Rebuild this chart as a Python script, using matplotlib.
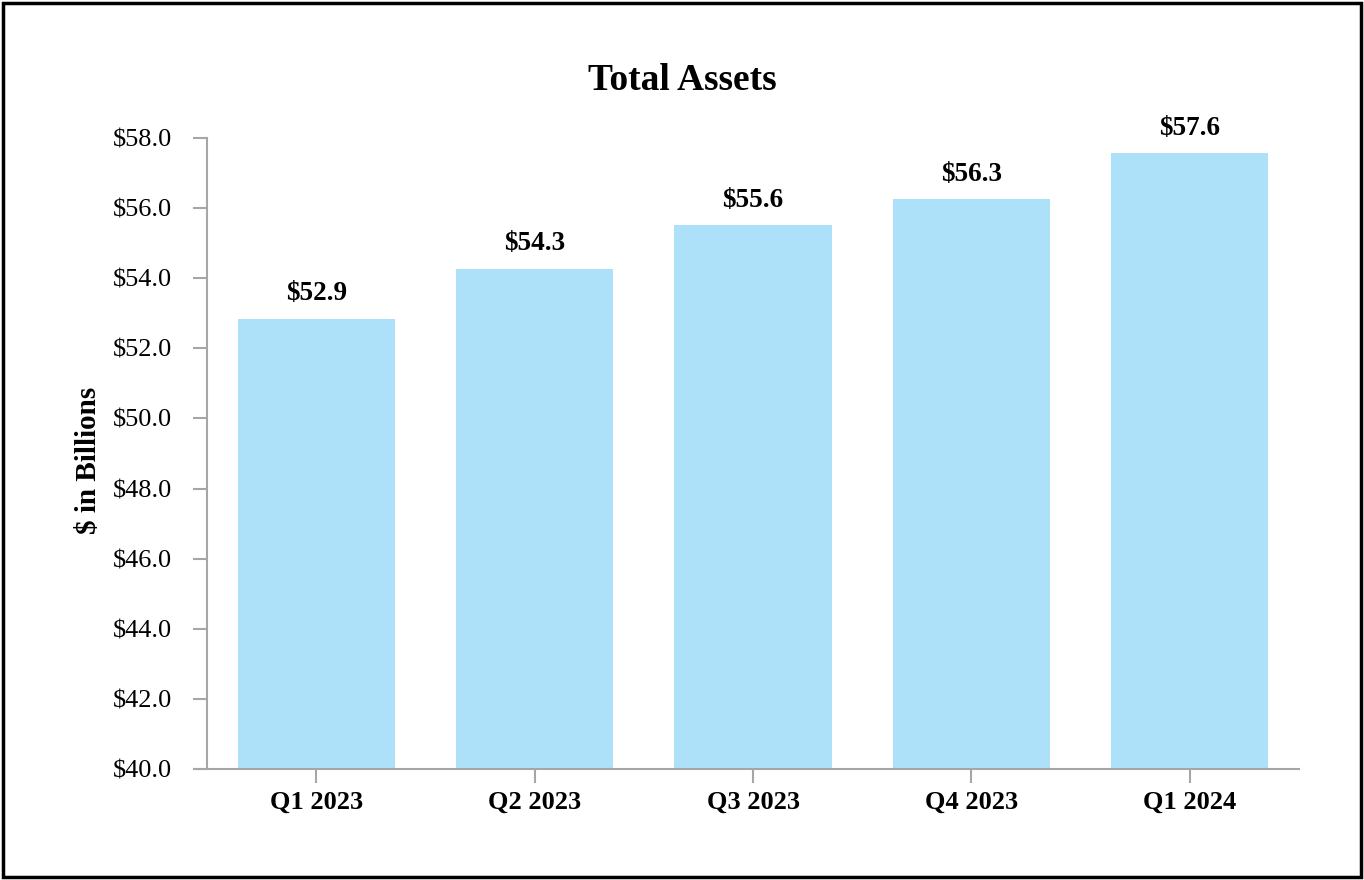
import matplotlib
matplotlib.use("Agg")
from matplotlib import pyplot as plt
from matplotlib.patches import Rectangle

quarters = ["Q1 2023", "Q2 2023", "Q3 2023", "Q4 2023", "Q1 2024"]
total_assets = [52.85, 54.27, 55.52, 56.26, 57.56]
value_labels = ["$52.9", "$54.3", "$55.6", "$56.3", "$57.6"]
y_ticks = [40, 42, 44, 46, 48, 50, 52, 54, 56, 58]

plt.rcParams["font.family"] = ["Liberation Serif", "DejaVu Serif"]

fig = plt.figure(figsize=(13.64, 8.8), dpi=100)
ax = fig.add_axes([195 / 1364, 111 / 880, (1299 - 195) / 1364, (769 - 138) / 880])

x = list(range(len(quarters)))
bars = ax.bar(x, total_assets, width=0.72, color="#ADE1FA", zorder=2)

for bar, label in zip(bars, value_labels):
    ax.text(bar.get_x() + bar.get_width() / 2, bar.get_height() + 0.35, label,
            ha="center", va="bottom", fontsize=19.5, fontweight="bold")

ax.set_xlim(-0.555, 4.5)
ax.set_ylim(40, 58)

spine_color = "#A6A6A6"
for side in ["top", "right"]:
    ax.spines[side].set_visible(False)
ax.spines["left"].set_position(("data", -0.5))
for side in ["left", "bottom"]:
    ax.spines[side].set_color(spine_color)
    ax.spines[side].set_linewidth(1.5)
ax.tick_params(axis="both", color=spine_color, width=1.5, length=10, labelsize=19)
ax.tick_params(axis="x", pad=6)
ax.tick_params(axis="y", pad=15)

ax.set_xticks(x)
ax.set_xticklabels(quarters, fontsize=19, fontweight="bold")
ax.set_yticks(y_ticks)
ax.set_yticklabels([f"${v:.1f}" for v in y_ticks], fontsize=19)

fig.text(88 / 1364, 1 - 460 / 880, "$ in Billions", rotation=90, ha="center", va="center",
         fontsize=21, fontweight="bold")
fig.text(0.5, 1 - 80 / 880, "Total Assets", ha="center", va="center",
         fontsize=27, fontweight="bold")

fig.patches.append(Rectangle((0.002, 0.003), 0.996, 0.994, transform=fig.transFigure,
                             fill=False, edgecolor="black", linewidth=2.5))

fig.savefig("out.png", dpi=100)
